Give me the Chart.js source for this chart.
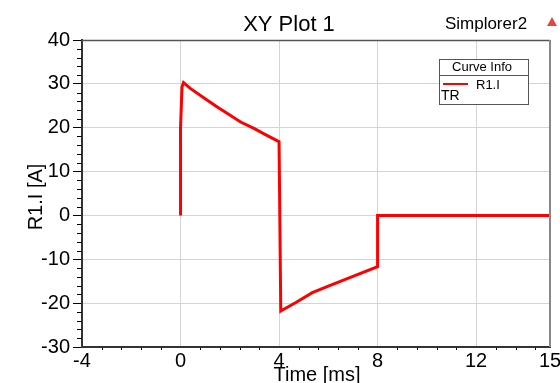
<!DOCTYPE html>
<html><head><meta charset="utf-8">
<script src="https://cdn.jsdelivr.net/npm/chart.js@4/dist/chart.umd.min.js"></script>
<style>html,body{margin:0;padding:0;background:#fff}#wrap{width:560px;height:383px}</style>
</head><body><div id="wrap"><canvas id="c1" width="560" height="383"></canvas></div>
<script>
// XY Plot 1 — R1.I vs time
const timeMs = [0, 0, 0.06, 0.12, 0.41, 1.0, 1.49, 2.0, 2.44, 3.0, 3.39, 3.7, 4.0, 4.07, 4.7, 5.35, 6.0, 7.0, 8.0, 8.0, 15];
const currentA = [0, 20, 29.3, 30.3, 28.9, 26.6, 24.7, 22.9, 21.3, 19.8, 18.6, 17.7, 16.8, -21.8, -19.8, -17.6, -16.1, -13.9, -11.7, 0, 0];
const xTicks = [-4, 0, 4, 8, 12, 15];
const font = 'Liberation Sans, Arial, sans-serif';

const hide = v => v === -4 || v === 15 || v === -30 || v === 40;

const decor = {
  id: 'decor',
  afterDraw(ch) {
    const g = ch.ctx, a = ch.chartArea, xs = ch.scales.x, ys = ch.scales.y;
    g.save();
    // minor ticks
    g.strokeStyle = '#000'; g.lineWidth = 1;
    for (let v = -30; v <= 40; v += 2) {
      if (v % 10 === 0) continue;
      const y = Math.round(ys.getPixelForValue(v)) + .5;
      g.beginPath(); g.moveTo(a.left - 5, y); g.lineTo(a.left, y); g.stroke();
    }
    for (let i = 1; i < 24; i++) {
      const v = -4 + i * 0.8;
      if (i % 5 === 0 || v > 15) continue;
      const x = Math.round(xs.getPixelForValue(v)) + .5;
      g.beginPath(); g.moveTo(x, a.bottom + 1); g.lineTo(x, a.bottom + 3); g.stroke();
    }
    // top + right frame
    g.strokeStyle = '#555'; g.lineWidth = 1.5;
    g.beginPath(); g.moveTo(a.left, a.top + .5); g.lineTo(a.right, a.top + .5); g.stroke();
    g.strokeStyle = '#888'; g.lineWidth = 2;
    g.beginPath(); g.moveTo(a.right, a.top); g.lineTo(a.right, a.bottom); g.stroke();
    // texts
    g.fillStyle = '#000'; g.textBaseline = 'alphabetic';
    g.font = '22px ' + font; g.textAlign = 'center';
    g.fillText('XY Plot 1', 289, 31);
    g.font = '17px ' + font;
    g.fillText('Simplorer2', 486, 29);
    g.font = '20px ' + font;
    g.fillText('Time [ms]', 317, 381);
    g.save(); g.translate(42, 197); g.rotate(-Math.PI / 2);
    g.fillText('R1.I [A]', 0, 0); g.restore();
    // logo
    g.fillStyle = '#e04848';
    g.beginPath(); g.moveTo(552, 17); g.lineTo(557, 26); g.lineTo(547, 26); g.closePath(); g.fill();
    // legend box
    g.fillStyle = '#fff'; g.fillRect(439, 59, 90, 45);
    g.strokeStyle = '#555'; g.lineWidth = 1;
    g.strokeRect(439.5, 59.5, 89, 45);
    g.beginPath(); g.moveTo(439.5, 75.5); g.lineTo(528.5, 75.5); g.stroke();
    g.fillStyle = '#000'; g.font = '13px ' + font; g.textAlign = 'center';
    g.fillText('Curve Info', 482, 71);
    g.strokeStyle = '#ff0000'; g.lineWidth = 2;
    g.beginPath(); g.moveTo(443, 84); g.lineTo(468, 84); g.stroke();
    g.textAlign = 'left';
    g.fillText('R1.I', 476, 89);
    g.font = '14px ' + font;
    g.fillText('TR', 441, 100);
    g.restore();
  }
};

new Chart(document.getElementById('c1'), {
  type: 'line',
  data: { datasets: [{
    label: 'R1.I',
    data: timeMs.map((t, i) => ({ x: t, y: currentA[i] })),
    borderColor: '#ff0000', borderWidth: 3, pointRadius: 0, tension: 0, fill: false
  }]},
  options: {
    responsive: false, animation: false, devicePixelRatio: 1,
    layout: { padding: { top: 40, right: 10, left: 0, bottom: 0 } },
    plugins: { legend: { display: false }, tooltip: { enabled: false } },
    scales: {
      x: {
        type: 'linear', min: -4, max: 15,
        afterBuildTicks: s => { s.ticks = xTicks.map(v => ({ value: v })) },
        afterFit: s => { s.height = 36; s.paddingRight = 0; s.paddingLeft = 0 },
        grid: { color: c => c.tick && hide(c.tick.value) ? 'rgba(0,0,0,0)' : '#d4d4d4', lineWidth: 1, drawTicks: false },
        border: { color: '#333', width: 2 },
        ticks: { color: '#000', font: { family: font, size: 20 }, padding: 2, maxRotation: 0, autoSkip: false }
      },
      y: {
        type: 'linear', min: -30, max: 40,
        afterFit: s => { s.width = 82 },
        grid: { color: c => c.tick && hide(c.tick.value) ? 'rgba(0,0,0,0)' : '#d4d4d4', lineWidth: 1, tickLength: 9, tickColor: '#000' },
        border: { color: '#333', width: 2 },
        ticks: { stepSize: 10, color: '#000', font: { family: font, size: 20 }, padding: 3 }
      }
    }
  },
  plugins: [decor]
});
</script></body></html>
